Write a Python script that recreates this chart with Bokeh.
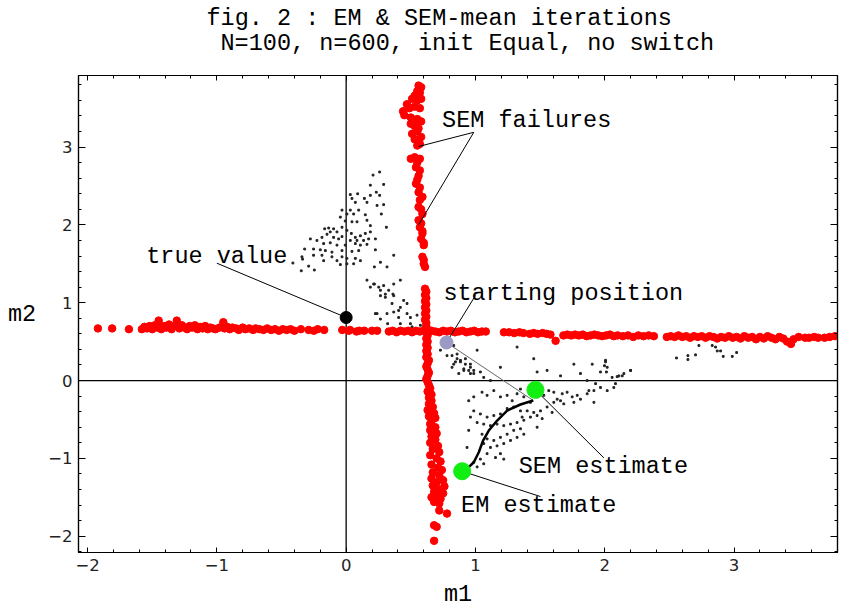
from bokeh.plotting import figure
from bokeh.models import (Range1d, SingleIntervalTicker, LinearAxis, Span, Label, Title,
                          CustomJSTickFormatter)
from bokeh.embed import file_html
from bokeh.resources import INLINE

# ---------------- data ----------------
title_line1 = "fig. 2 : EM & SEM-mean iterations"
title_line2 = "N=100, n=600, init Equal, no switch"
x_label = "m1"
y_label = "m2"

# SEM-mean iterates (small black dots)
dots = [
    (0.259, 2.68), (0.208, 2.64), (0.187, 2.51), (0.29, 2.52), (0.233, 2.42), (0.259, 2.38), (0.187, 2.38),
    (0.141, 2.34), (0.089, 2.40), (0.032, 2.39), (0.045, 2.34), (0.071, 2.29), (0.161, 2.29), (0.239, 2.25),
    (0.29, 2.26), (-0.032, 2.19), (0.032, 2.19), (0.097, 2.19), (0.006, 2.14), (0.058, 2.14), (0.148, 2.13),
    (0.272, 2.14), (-0.045, 2.10), (-0.007, 2.05), (0.045, 2.04), (0.084, 2.04), (0.161, 2.06), (0.187, 1.99),
    (0.311, 1.97), (-0.166, 1.95), (-0.135, 1.96), (-0.097, 1.95), (-0.071, 1.91), (-0.032, 1.97), (0.006, 1.93),
    (0.04, 1.89), (0.071, 1.84), (0.11, 1.86), (0.148, 1.89), (0.187, 1.91), (-0.123, 1.91), (-0.148, 1.88),
    (-0.187, 1.84), (-0.226, 1.80), (-0.277, 1.82), (-0.097, 1.84), (-0.058, 1.82), (-0.032, 1.85), (0.032, 1.80),
    (0.084, 1.80), (0.135, 1.80), (0.174, 1.82), (0.226, 1.82), (-0.174, 1.76), (-0.123, 1.77), (-0.071, 1.74),
    (-0.007, 1.74), (0.071, 1.76), (0.11, 1.74), (0.161, 1.75), (-0.252, 1.69), (-0.321, 1.69), (-0.2, 1.68),
    (-0.161, 1.67), (-0.11, 1.65), (-0.032, 1.67), (0.045, 1.66), (0.097, 1.67), (0.226, 1.68), (-0.342, 1.59),
    (-0.252, 1.61), (-0.187, 1.61), (-0.11, 1.59), (-0.032, 1.59), (0.006, 1.57), (0.071, 1.57), (0.11, 1.54),
    (-0.337, 1.56), (-0.174, 1.54), (-0.071, 1.54), (-0.29, 1.47), (-0.246, 1.42), (-0.347, 1.41), (-0.412, 1.51),
    (-0.045, 1.49), (0.006, 1.50), (0.058, 1.50), (0.265, 1.52), (0.218, 1.46), (0.316, 1.46), (0.368, 1.61),
    (0.161, 1.29), (0.187, 1.20), (0.218, 1.24), (0.252, 1.20), (0.29, 1.22), (0.329, 1.16), (0.265, 1.09),
    (0.303, 1.07), (0.362, 1.11), (0.226, 0.86), (0.316, 0.86), (0.368, 0.88), (0.406, 0.90), (0.321, 0.73),
    (0.406, 0.81), (0.213, 1.24), (0.419, 1.29), (0.368, 1.24), (0.265, 1.16), (0.303, 1.11), (0.368, 1.09),
    (0.445, 1.03), (0.471, 0.99), (0.355, 0.99), (0.419, 0.94), (0.239, 0.86), (0.471, 0.86), (0.497, 0.81),
    (0.548, 0.84), (0.419, 0.73), (0.497, 0.73), (0.574, 0.71), (0.265, 0.79), (0.51, 0.69),
    (0.729, 0.39), (0.78, 0.32), (0.832, 0.45), (0.858, 0.34), (0.845, 0.24), (0.884, 0.26), (0.922, 0.28),
    (0.961, 0.21), (0.91, 0.15), (0.948, 0.13), (0.987, 0.09), (1.013, 0.39), (1.064, 0.04), (0.871, 0.09),
    (0.819, 0.17),
    (0.819, 0.32), (0.858, 0.28), (0.884, 0.24), (0.922, 0.21), (0.961, 0.17), (0.832, 0.21), (0.91, 0.13),
    (0.987, 0.13), (1.038, 0.11), (1.116, 0.0), (1.193, 0.17), (1.322, 0.43), (1.451, 0.28), (1.477, 0.11),
    (1.554, 0.13), (1.658, 0.06), (1.761, 0.21), (1.812, 0.09), (1.903, 0.21), (1.967, 0.11), (2.006, 0.24),
    (2.019, 0.17), (2.109, 0.06), (2.148, 0.09), (2.2, 0.13), (1.864, 0.0), (1.929, -0.04), (1.967, -0.09),
    (1.877, -0.13), (2.019, -0.13), (2.083, -0.04),
    (0.948, -0.26), (0.987, -0.21), (1.051, -0.15), (1.09, -0.19), (1.142, -0.13), (1.193, -0.21), (1.245, -0.19),
    (1.284, -0.26), (1.322, -0.17), (1.348, -0.11), (1.374, -0.21), (1.425, -0.28), (1.477, -0.21), (1.529, -0.19),
    (1.567, -0.13), (1.606, -0.15), (1.632, -0.24), (1.671, -0.17), (1.709, -0.15), (1.748, -0.21), (1.787, -0.19),
    (1.683, -0.30), (1.606, -0.28), (1.554, -0.34), (1.503, -0.39), (1.451, -0.41), (1.4, -0.39), (1.348, -0.39),
    (1.296, -0.34), (1.245, -0.36), (1.193, -0.43), (1.142, -0.45), (1.09, -0.47), (1.038, -0.43), (0.987, -0.39),
    (0.961, -0.47), (1.013, -0.54), (1.064, -0.56), (1.116, -0.58), (1.167, -0.56), (1.219, -0.58), (1.271, -0.56),
    (1.322, -0.54), (1.374, -0.51), (1.425, -0.47), (1.477, -0.45), (1.516, -0.49), (1.296, -0.64), (1.348, -0.62),
    (1.245, -0.69), (1.193, -0.73), (1.142, -0.77), (1.09, -0.75), (1.064, -0.81), (1.116, -0.86), (1.167, -0.84),
    (1.219, -0.81), (1.271, -0.77), (1.193, -0.94), (1.155, -0.99), (1.219, -1.01), (1.09, -0.94), (1.038, -1.01),
    (1.064, -1.07), (1.013, -1.11), (0.987, -1.05), (0.935, -0.86), (0.948, -0.64), (1.051, -0.69), (1.322, -0.73),
    (1.374, -0.69), (1.477, -0.60), (1.361, -0.47), (1.593, -0.41), (1.658, -0.26), (1.761, -0.28), (1.812, -0.24),
    (1.864, -0.17), (1.916, -0.13), (0.961, 0.09), (1.916, -0.28),
    (2.006, 0.26), (1.998, 0.19), (2.013, 0.11), (2.057, 0.04), (2.096, 0.05), (2.135, 0.06), (2.2, 0.13),
    (2.07, -0.09), (2.555, 0.29), (2.643, 0.32), (2.643, 0.27), (2.702, 0.33), (2.728, 0.45), (2.831, 0.45),
    (2.857, 0.43), (2.87, 0.38), (2.896, 0.38), (2.916, 0.31), (2.986, 0.31), (3.02, 0.36),
]
dot_x = [d[0] for d in dots]
dot_y = [d[1] for d in dots]

# SEM failures (red points): horizontal band then vertical band
red = [
    (-1.92, 0.67), (-1.81, 0.67), (-1.68, 0.66),
    (-1.58, 0.66), (-1.56, 0.69), (-1.54, 0.67), (-1.52, 0.70), (-1.50, 0.66), (-1.48, 0.71), (-1.46, 0.68),
    (-1.45, 0.77), (-1.43, 0.66), (-1.41, 0.70), (-1.39, 0.68), (-1.37, 0.72), (-1.35, 0.66), (-1.33, 0.70),
    (-1.31, 0.77), (-1.29, 0.67), (-1.27, 0.71), (-1.25, 0.68), (-1.23, 0.66), (-1.21, 0.70), (-1.19, 0.68),
    (-1.17, 0.71), (-1.15, 0.66), (-1.13, 0.69), (-1.11, 0.67), (-1.09, 0.70), (-1.07, 0.66), (-1.05, 0.68),
    (-1.03, 0.67), (-1.01, 0.66), (-0.98, 0.68), (-0.95, 0.75), (-0.94, 0.67), (-0.92, 0.69), (-0.90, 0.66),
    (-0.88, 0.68), (-0.85, 0.67), (-0.83, 0.65), (-0.80, 0.68), (-0.78, 0.66), (-0.75, 0.67), (-0.72, 0.65),
    (-0.70, 0.67), (-0.67, 0.66), (-0.64, 0.65), (-0.61, 0.67), (-0.58, 0.65), (-0.55, 0.66), (-0.52, 0.64),
    (-0.49, 0.66), (-0.46, 0.65), (-0.43, 0.66), (-0.40, 0.64), (-0.35, 0.66), (-0.29, 0.65), (-0.25, 0.64),
    (-0.22, 0.66), (-0.17, 0.65), (-0.03, 0.65), (0.02, 0.64), (0.08, 0.63),
    (0.03, 0.65), (0.10, 0.64), (0.14, 0.64), (0.20, 0.64), (0.24, 0.64),
    (0.33, 0.63), (0.36, 0.64), (0.39, 0.62), (0.42, 0.64), (0.45, 0.63), (0.48, 0.64), (0.51, 0.62),
    (0.54, 0.64), (0.57, 0.63), (0.60, 0.64), (0.63, 0.62), (0.66, 0.64), (0.69, 0.63), (0.72, 0.62),
    (0.75, 0.64), (0.78, 0.63), (0.81, 0.64), (0.84, 0.62), (0.87, 0.63), (0.90, 0.64), (0.93, 0.62),
    (0.96, 0.63), (0.99, 0.64), (1.02, 0.62), (1.05, 0.63), (1.08, 0.63),
    (1.22, 0.62), (1.26, 0.62), (1.30, 0.61), (1.34, 0.62), (1.37, 0.61),
    (1.42, 0.60), (1.45, 0.61), (1.48, 0.60), (1.52, 0.61), (1.55, 0.60), (1.58, 0.59), (1.62, 0.51),
    (1.68, 0.58), (1.71, 0.59), (1.74, 0.58), (1.77, 0.59), (1.80, 0.58), (1.83, 0.59), (1.86, 0.57),
    (1.89, 0.58), (1.92, 0.59), (1.95, 0.58), (1.98, 0.57), (2.01, 0.58), (2.04, 0.59), (2.07, 0.57),
    (2.10, 0.58), (2.14, 0.57), (2.18, 0.58), (2.22, 0.56), (2.26, 0.58), (2.30, 0.57), (2.34, 0.58),
    (2.38, 0.57), (2.48, 0.56), (2.51, 0.57), (2.54, 0.56), (2.57, 0.58), (2.60, 0.56), (2.63, 0.57),
    (2.66, 0.55), (2.69, 0.57), (2.72, 0.56), (2.75, 0.57), (2.78, 0.55), (2.81, 0.57), (2.84, 0.56),
    (2.87, 0.54), (2.90, 0.56), (2.93, 0.55), (2.96, 0.57), (2.99, 0.55), (3.02, 0.56), (3.05, 0.54),
    (3.08, 0.57), (3.11, 0.55), (3.14, 0.56), (3.17, 0.53), (3.20, 0.56), (3.23, 0.54), (3.26, 0.57),
    (3.29, 0.55), (3.32, 0.53), (3.35, 0.56), (3.38, 0.54), (3.41, 0.50), (3.44, 0.47), (3.46, 0.53),
    (3.50, 0.56), (3.55, 0.55), (3.58, 0.55), (3.62, 0.56), (3.65, 0.55), (3.70, 0.55), (3.74, 0.56),
    (3.78, 0.57),
    # vertical band
    (0.56, 3.79), (0.58, 3.77), (0.55, 3.72), (0.57, 3.70), (0.53, 3.66), (0.51, 3.62), (0.55, 3.60),
    (0.58, 3.62), (0.47, 3.55), (0.44, 3.46), (0.49, 3.50), (0.53, 3.52), (0.57, 3.50), (0.45, 3.41),
    (0.50, 3.38), (0.55, 3.36), (0.58, 3.33), (0.50, 3.30), (0.53, 3.27), (0.56, 3.24), (0.51, 3.17),
    (0.55, 3.20), (0.58, 3.13), (0.53, 3.10), (0.56, 3.06), (0.55, 3.02), (0.57, 3.04),
    (0.50, 2.85), (0.53, 2.87), (0.57, 2.85), (0.55, 2.80), (0.54, 2.74), (0.57, 2.70), (0.56, 2.63),
    (0.55, 2.58), (0.54, 2.53), (0.57, 2.48), (0.56, 2.42), (0.59, 2.36), (0.57, 2.32), (0.56, 2.23),
    (0.58, 2.20), (0.59, 2.14), (0.56, 2.06), (0.58, 2.02), (0.57, 1.97), (0.59, 1.92), (0.59, 1.89),
    (0.58, 1.82), (0.60, 1.77), (0.60, 1.74), (0.59, 1.59), (0.60, 1.55), (0.60, 1.50), (0.61, 1.46),
    (0.61, 1.18), (0.62, 1.14), (0.61, 1.10), (0.62, 1.06), (0.61, 1.02), (0.62, 0.98), (0.61, 0.94),
    (0.62, 0.90), (0.61, 0.86), (0.62, 0.82), (0.61, 0.78), (0.62, 0.74), (0.62, 0.70), (0.61, 0.66),
    (0.62, 0.62), (0.63, 0.58), (0.62, 0.54), (0.63, 0.50), (0.62, 0.46), (0.63, 0.42), (0.62, 0.38),
    (0.63, 0.34), (0.62, 0.30), (0.64, 0.26), (0.63, 0.22), (0.62, 0.18), (0.63, 0.14), (0.64, 0.10),
    (0.63, 0.06), (0.62, 0.02),
    (0.63, -0.02), (0.64, -0.06), (0.65, -0.10), (0.63, -0.14), (0.66, -0.18), (0.64, -0.22), (0.66, -0.26),
    (0.64, -0.30), (0.67, -0.34), (0.63, -0.38), (0.68, -0.42), (0.64, -0.46), (0.69, -0.48), (0.66, -0.52),
    (0.65, -0.56), (0.69, -0.60), (0.65, -0.64), (0.70, -0.68), (0.66, -0.72), (0.69, -0.76), (0.65, -0.80),
    (0.71, -0.84), (0.67, -0.88), (0.72, -0.92), (0.65, -0.96), (0.70, -1.00), (0.73, -1.04), (0.66, -1.08),
    (0.71, -1.12), (0.74, -1.15), (0.67, -1.18), (0.72, -1.22), (0.66, -1.26), (0.75, -1.28), (0.70, -1.31),
    (0.67, -1.35), (0.76, -1.36), (0.72, -1.40), (0.68, -1.43), (0.75, -1.45), (0.70, -1.48), (0.66, -1.50),
    (0.73, -1.52), (0.68, -1.56), (0.72, -1.58),
    (0.72, -1.67), (0.78, -1.71), (0.68, -1.86), (0.70, -1.88), (0.68, -2.06),
]
red_x = [r[0] for r in red]
red_y = [r[1] for r in red]

# EM trajectory
em_jump_x = [0.776, 1.447]
em_jump_y = [0.488, -0.257]
em_path_x = [1.447, 1.348, 1.245, 1.168, 1.103, 1.059, 1.026, 0.987, 0.948]
em_path_y = [-0.257, -0.308, -0.386, -0.514, -0.643, -0.771, -0.921, -1.05, -1.114]

# key points
true_value = (0.0, 0.81)
start_pos = (0.776, 0.488)
sem_est = (1.464, -0.12)
em_est = (0.897, -1.166)

# annotation texts (text, x, y) and leader lines ((x0, y0), (x1, y1))
notes = [
    ("true value", -1.546, 1.598),
    ("SEM failures", 0.742, 3.338),
    ("starting position", 0.752, 1.118),
    ("SEM estimate", 1.335, -1.10),
    ("EM estimate", 0.889, -1.60),
]
leaders = [
    ((-1.0, 1.508), true_value),
    ((0.987, 3.19), (0.561, 3.008)),
    ((0.987, 3.19), (0.561, 2.003)),
    ((1.0, 1.093), start_pos),
    (sem_est, (1.993, -0.994)),
    (em_est, (1.503, -1.491)),
]

x_min, x_max = -2.07, 3.80
y_min, y_max = -2.21, 3.92

# ---------------- figure ----------------
MONO = "Liberation Mono"
SANS = "DejaVu Sans"
MONO_SIZE = "23.5px"

p = figure(width=841, height=611, x_range=Range1d(x_min, x_max), y_range=Range1d(y_min, y_max),
           output_backend="svg", toolbar_location=None, title=None,
           x_axis_location=None, y_axis_location=None,
           min_border_left=78, min_border_right=4, min_border_top=75, min_border_bottom=59)
p.xgrid.visible = False
p.ygrid.visible = False
p.outline_line_color = "black"
p.outline_line_width = 1.2
p.background_fill_color = "white"
p.border_fill_color = "white"

fmt = CustomJSTickFormatter(code="return tick < 0 ? '\u2212' + (-tick) : tick.toString();")


def make_axis(major_in, labels, label_text=None):
    ax = LinearAxis(ticker=SingleIntervalTicker(interval=1, num_minor_ticks=5),
                    major_tick_in=major_in, major_tick_out=0,
                    minor_tick_in=3, minor_tick_out=0,
                    axis_line_width=1.2, major_tick_line_width=1, minor_tick_line_width=1)
    if labels:
        ax.formatter = fmt
        ax.major_label_text_font = SANS
        ax.major_label_text_font_size = "16.5px"
        ax.major_label_text_color = "#222222"
        ax.major_label_standoff = 6
    else:
        ax.major_label_text_font_size = "0px"
        ax.major_label_standoff = 0
        ax.major_label_text_alpha = 0
    if label_text is not None:
        ax.axis_label = label_text
        ax.axis_label_text_font = MONO
        ax.axis_label_text_font_size = MONO_SIZE
        ax.axis_label_text_font_style = "normal"
        ax.axis_label_text_color = "black"
    return ax


bottom = make_axis(5, True, x_label)
bottom.axis_label_standoff = 7
left = make_axis(7, True, y_label)
left.axis_label_standoff = 9
try:
    left.axis_label_orientation = "horizontal"
except Exception:
    pass
p.add_layout(bottom, "below")
p.add_layout(make_axis(5, False), "above")
p.add_layout(left, "left")
p.add_layout(make_axis(7, False), "right")

# invisible spacer between the frame and the two title lines
spacer = make_axis(0, False)
spacer.major_tick_out = 19
spacer.minor_tick_in = 0
spacer.axis_line_alpha = 0
spacer.major_tick_line_alpha = 0
spacer.minor_tick_line_alpha = 0
p.add_layout(spacer, "above")

# title: second line first (closest to plot), then first line above it
p.add_layout(Title(text=title_line2, align="left", offset=142, standoff=0,
                   text_font=MONO, text_font_size=MONO_SIZE, text_font_style="normal",
                   text_color="black"), "above")
p.add_layout(Title(text=title_line1, align="left", offset=128, standoff=-9,
                   text_font=MONO, text_font_size=MONO_SIZE, text_font_style="normal",
                   text_color="black"), "above")

# zero axes
p.add_layout(Span(location=0, dimension="height", line_color="black", line_width=1.3, level="underlay"))
p.add_layout(Span(location=0, dimension="width", line_color="black", line_width=1.3, level="underlay"))

# SEM iterates
p.scatter(dot_x, dot_y, marker="square", size=1.8, color="#222222")
# SEM failures
p.scatter(red_x, red_y, marker="circle", size=7.5, color="#ff0000")
# EM path
p.line(em_jump_x, em_jump_y, line_color="#666666", line_width=1)
p.line(em_path_x, em_path_y, line_color="black", line_width=2.5)

# leader lines
for (a, b) in leaders:
    p.line([a[0], b[0]], [a[1], b[1]], line_color="black", line_width=1)

# key points
p.scatter([true_value[0]], [true_value[1]], size=12, color="black")
p.scatter([start_pos[0]], [start_pos[1]], size=13, color="#9a9ac4")
p.scatter([sem_est[0], em_est[0]], [sem_est[1], em_est[1]], size=17, color="#11ee11")

for (t, x, y) in notes:
    p.add_layout(Label(x=x, y=y, text=t, text_font=MONO, text_font_size=MONO_SIZE,
                       text_baseline="alphabetic", text_align="left", text_color="black"))

open("out.html", "w").write(file_html(p, INLINE))
